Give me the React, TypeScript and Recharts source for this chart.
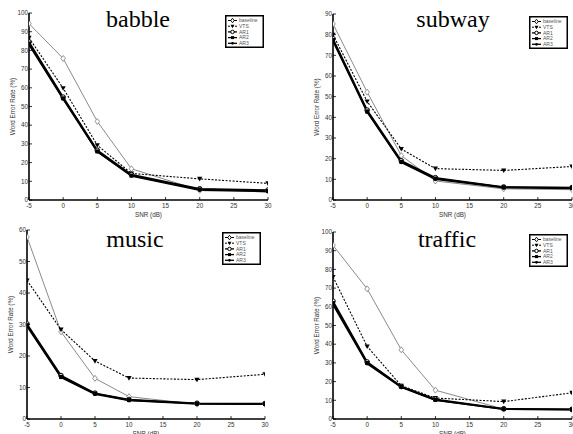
import React from 'react';
import { LineChart, Line, XAxis, YAxis, Legend, Customized } from 'recharts';

// ---------- data ----------
const snr = [-5, 0, 5, 10, 20, 30];
const xTicks = [-5, 0, 5, 10, 15, 20, 25, 30];
const seriesNames = ['baseline', 'VTS', 'AR1', 'AR2', 'AR3'];

const babbleBaseline = [94.3, 75.7, 42, 16.7, 5.2, 5.0];
const babbleVTS = [86.7, 59.8, 29.3, 14.2, 11.3, 8.9];
const babbleAR1 = [84.5, 55.0, 26.6, 13.6, 6.0, 5.3];
const babbleAR2 = [83.7, 54.4, 26.0, 13.1, 5.7, 4.8];
const babbleAR3 = [83.0, 54.0, 25.8, 12.9, 5.3, 4.5];
const babbleYTicks = [0, 10, 20, 30, 40, 50, 60, 70, 80, 90, 100];

const subwayBaseline = [85.2, 52.2, 21.5, 9.2, 5.4, 5.0];
const subwayVTS = [80.0, 47.7, 24.7, 15.2, 14.3, 16.2];
const subwayAR1 = [78.0, 43.5, 19.0, 10.8, 6.3, 6.0];
const subwayAR2 = [77.4, 42.9, 18.5, 10.4, 6.2, 5.9];
const subwayAR3 = [76.8, 42.5, 18.2, 10.0, 6.0, 5.6];
const subwayYTicks = [0, 10, 20, 30, 40, 50, 60, 70, 80, 90];

const musicBaseline = [57.8, 27.7, 12.9, 7.1, 4.7, 4.7];
const musicVTS = [44.0, 28.4, 18.4, 13.0, 12.5, 14.2];
const musicAR1 = [30.2, 13.8, 8.2, 6.2, 5.0, 4.9];
const musicAR2 = [29.8, 13.4, 8.1, 6.0, 4.9, 4.8];
const musicAR3 = [29.4, 13.2, 7.9, 5.9, 4.8, 4.7];
const musicYTicks = [0, 10, 20, 30, 40, 50, 60];

const trafficBaseline = [92.9, 69.6, 37.0, 15.4, 5.3, 4.9];
const trafficVTS = [76.0, 38.8, 17.8, 11.2, 9.3, 14.0];
const trafficAR1 = [63.0, 30.5, 17.4, 10.6, 5.5, 5.2];
const trafficAR2 = [62.0, 30.0, 17.2, 10.2, 5.3, 5.1];
const trafficAR3 = [61.2, 29.6, 16.9, 10.0, 5.2, 5.0];
const trafficYTicks = [0, 10, 20, 30, 40, 50, 60, 70, 80, 90, 100];

const buildRows = (cols: number[][]) =>
  snr.map((x, i) => {
    const row: Record<string, number> = { snr: x };
    seriesNames.forEach((n, k) => {
      row[n] = cols[k][i];
    });
    return row;
  });

// ---------- styles ----------
type Kind = 'diamond' | 'tri' | 'circle' | 'square' | 'dot';
const seriesStyle: Record<string, { color: string; width: number; dash?: string; kind: Kind }> = {
  baseline: { color: '#8a8a8a', width: 1, kind: 'diamond' },
  VTS: { color: '#000', width: 1.1, dash: '2 1.5', kind: 'tri' },
  AR1: { color: '#000', width: 1.6, kind: 'circle' },
  AR2: { color: '#000', width: 1.6, kind: 'square' },
  AR3: { color: '#000', width: 1.6, kind: 'dot' },
};

function Marker({ kind, cx, cy, color, s = 1 }: { kind: Kind; cx: number; cy: number; color: string; s?: number }) {
  if (cx == null || cy == null) return null;
  switch (kind) {
    case 'diamond':
      return (
        <polygon
          points={`${cx},${cy - 3 * s} ${cx + 2.3 * s},${cy} ${cx},${cy + 3 * s} ${cx - 2.3 * s},${cy}`}
          fill="#fff"
          stroke={color}
          strokeWidth={0.9}
        />
      );
    case 'tri':
      return (
        <polygon
          points={`${cx - 2.6 * s},${cy - 2 * s} ${cx + 2.6 * s},${cy - 2 * s} ${cx},${cy + 2.6 * s}`}
          fill={color}
        />
      );
    case 'circle':
      return <circle cx={cx} cy={cy} r={2.3 * s} fill="#fff" stroke={color} strokeWidth={1} />;
    case 'square':
      return <rect x={cx - 2 * s} y={cy - 2 * s} width={4 * s} height={4 * s} fill={color} />;
    default:
      return <circle cx={cx} cy={cy} r={1.8 * s} fill={color} />;
  }
}

const makeDot = (name: string) => (p: any) => {
  const st = seriesStyle[name];
  return <Marker key={`${name}-${p.index}`} kind={st.kind} cx={p.cx} cy={p.cy} color={st.color} />;
};

const TICK_FONT = '"Liberation Sans", Arial, sans-serif';
const ML = 29;
const MT = 13;
const MR = 20;
const XH = 20;

type Box = { l: number; t: number; r: number; b: number };

function LegendBox() {
  return (
    <svg width={39} height={33} style={{ display: 'block' }}>
      <rect x={0.75} y={0.75} width={37.5} height={31.5} fill="#fff" stroke="#000" strokeWidth={1.5} />
      {seriesNames.map((n, i) => {
        const st = seriesStyle[n];
        const y = 5.5 + i * 5.7;
        return (
          <g key={n}>
            <line x1={3} x2={12} y1={y} y2={y} stroke="#000" strokeWidth={st.width > 1.2 ? 1.3 : 1} strokeDasharray={st.dash} />
            <Marker kind={st.kind} cx={7.5} cy={y} color="#000" s={0.75} />
            <text x={14} y={y + 1.7} fontSize={5} fill="#555" fontFamily={TICK_FONT}>
              {n}
            </text>
          </g>
        );
      })}
    </svg>
  );
}

function Panel({ title, rows, yTicks, box, titleDy, titleX }: { title: string; rows: any[]; yTicks: number[]; box: Box; titleDy: number; titleX: number }) {
  const plotW = box.r - box.l;
  const plotH = box.b - box.t;
  const W = plotW + ML + MR;
  const H = plotH + MT + XH;
  const pl = ML;
  const pt = MT;
  const pr = ML + plotW;
  const pb = MT + plotH;
  const yMax = yTicks[yTicks.length - 1];
  const axisLine = { stroke: '#000', strokeWidth: 1.6 };

  const bottomTick = (p: any) => (
    <g>
      <line x1={p.x} x2={p.x} y1={pb} y2={pb - 3} stroke="#000" strokeWidth={0.8} />
      <text x={p.x} y={pb + 7.5} textAnchor="middle" fontSize={6.3} fill="#333" fontFamily={TICK_FONT}>
        {p.payload.value}
      </text>
    </g>
  );
  const topTick = (p: any) => (
    <line x1={p.x} x2={p.x} y1={pt} y2={pt + 3} stroke="#000" strokeWidth={0.8} />
  );
  const leftTick = (p: any) => (
    <g>
      <line x1={pl} x2={pl + 3} y1={p.y} y2={p.y} stroke="#000" strokeWidth={0.8} />
      <text x={pl - 1} y={p.y + 2.2} textAnchor="end" fontSize={6.3} fill="#333" fontFamily={TICK_FONT}>
        {p.payload.value}
      </text>
    </g>
  );
  const rightTick = (p: any) => (
    <line x1={pr} x2={pr - 3} y1={p.y} y2={p.y} stroke="#000" strokeWidth={0.8} />
  );

  const Texts = () => (
    <g>
      <text x={titleX - box.l + ML} y={pt + titleDy} textAnchor="middle" fontSize={24} fill="#000" fontFamily='"Liberation Serif", "Times New Roman", serif'>
        {title}
      </text>
      <text x={(pl + pr) / 2} y={pb + 16.5} textAnchor="middle" fontSize={6.3} fill="#333" fontFamily={TICK_FONT}>
        SNR (dB)
      </text>
      <text
        x={pl - 14}
        y={(pt + pb) / 2}
        textAnchor="middle"
        fontSize={6.3}
        fill="#333"
        fontFamily={TICK_FONT}
        transform={`rotate(-90 ${pl - 14} ${(pt + pb) / 2})`}
      >
        Word Error Rate (%)
      </text>
    </g>
  );

  return (
    <div style={{ position: 'absolute', left: box.l - ML, top: box.t - MT }}>
      <LineChart width={W} height={H} data={rows} margin={{ top: MT, right: MR, bottom: 0, left: 0 }}>
        <XAxis
          dataKey="snr"
          type="number"
          domain={[-5, 30]}
          ticks={xTicks}
          interval={0}
          height={XH}
          axisLine={axisLine}
          tickLine={false}
          tick={bottomTick}
          allowDataOverflow
        />
        <XAxis
          xAxisId="top"
          orientation="top"
          dataKey="snr"
          type="number"
          domain={[-5, 30]}
          ticks={xTicks}
          interval={0}
          height={0}
          axisLine={axisLine}
          tickLine={false}
          tick={topTick}
          allowDataOverflow
        />
        <YAxis
          type="number"
          domain={[0, yMax]}
          ticks={yTicks}
          interval={0}
          width={ML}
          axisLine={axisLine}
          tickLine={false}
          tick={leftTick}
          allowDataOverflow
        />
        <YAxis
          yAxisId="right"
          orientation="right"
          type="number"
          domain={[0, yMax]}
          ticks={yTicks}
          interval={0}
          width={0}
          axisLine={axisLine}
          tickLine={false}
          tick={rightTick}
          allowDataOverflow
        />
        {seriesNames.map((n) => {
          const st = seriesStyle[n];
          return (
            <Line
              key={n}
              dataKey={n}
              name={n}
              type="linear"
              stroke={st.color}
              strokeWidth={st.width}
              strokeDasharray={st.dash}
              dot={makeDot(n)}
              activeDot={false}
              isAnimationActive={false}
            />
          );
        })}
        <Customized component={Texts} />
        <Legend
          layout="horizontal"
          verticalAlign="middle"
          align="center"
          wrapperStyle={{ position: 'absolute', left: pr - 4 - 39, top: pt + 2, width: 39, height: 33, margin: 0, padding: 0, lineHeight: 0 }}
          content={() => <LegendBox />}
        />
      </LineChart>
    </div>
  );
}

const babbleRows = buildRows([babbleBaseline, babbleVTS, babbleAR1, babbleAR2, babbleAR3]);
const subwayRows = buildRows([subwayBaseline, subwayVTS, subwayAR1, subwayAR2, subwayAR3]);
const musicRows = buildRows([musicBaseline, musicVTS, musicAR1, musicAR2, musicAR3]);
const trafficRows = buildRows([trafficBaseline, trafficVTS, trafficAR1, trafficAR2, trafficAR3]);

export default function App() {
  return (
    <div style={{ position: 'absolute', left: 0, top: 0, width: 573, height: 434, overflow: 'hidden', background: '#fff' }}>
      <Panel title="babble" rows={babbleRows} yTicks={babbleYTicks} box={{ l: 29, t: 13, r: 268, b: 200 }} titleDy={14} titleX={138} />
      <Panel title="subway" rows={subwayRows} yTicks={subwayYTicks} box={{ l: 333, t: 14, r: 572, b: 200 }} titleDy={13} titleX={453} />
      <Panel title="music" rows={musicRows} yTicks={musicYTicks} box={{ l: 27, t: 230, r: 265, b: 419 }} titleDy={17} titleX={135} />
      <Panel title="traffic" rows={trafficRows} yTicks={trafficYTicks} box={{ l: 333, t: 232, r: 572, b: 419 }} titleDy={15} titleX={447} />
    </div>
  );
}
